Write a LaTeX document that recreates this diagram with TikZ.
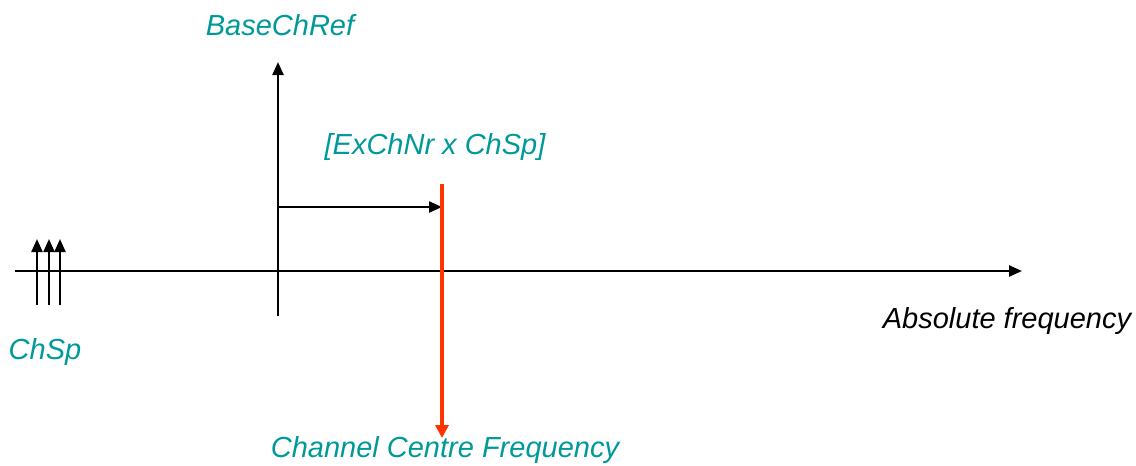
\documentclass[tikz,border=0pt]{standalone}
\usepackage{fontspec}
\setmainfont{Liberation Sans}
\usetikzlibrary{arrows.meta}
\definecolor{teal}{HTML}{009999}
\definecolor{redline}{HTML}{FF3300}
\begin{document}
\begin{tikzpicture}[x=1pt,y=-1pt,
  ln/.style={line width=2.3pt,-{Triangle[length=13pt,width=11pt]}},
  lbl/.style={font=\fontsize{29}{32}\selectfont\itshape,text=teal,inner sep=0pt},
  blk/.style={font=\fontsize{29}{32}\selectfont\itshape,text=black,inner sep=0pt}]
\useasboundingbox (0,0) rectangle (1136,466);
\coordinate (axL) at (15,271);
\coordinate (axR) at (1022,271);
\coordinate (vB) at (278,316);
\coordinate (vT) at (278,62);
\coordinate (hL) at (278,207);
\coordinate (hR) at (442,207);
\coordinate (rT) at (442,184);
\coordinate (rB) at (442,438);
\coordinate (a1B) at (37,305);
\coordinate (a1T) at (37,239);
\coordinate (a2B) at (49,305);
\coordinate (a2T) at (49,239);
\coordinate (a3B) at (60,305);
\coordinate (a3T) at (60,239);
\draw[ln] (axL) -- (axR);
\draw[ln] (vB) -- (vT);
\draw[ln] (hL) -- (hR);
\draw[line width=4pt,redline,-{Triangle[length=13pt,width=13pt]}] (rT) -- (rB);
\draw[ln] (a1B) -- (a1T);
\draw[ln] (a2B) -- (a2T);
\draw[ln] (a3B) -- (a3T);
\node[lbl] (base) at (280,25) {BaseChRef};
\node[lbl] (ex) at (435,147) {[ExChNr x ChSp]};
\node[lbl] (chsp) at (45,352) {ChSp};
\node[blk] (abs) at (1007,321) {Absolute frequency};
\node[lbl] (ccf) at (445,450) {Channel Centre Frequency};
\end{tikzpicture}
\end{document}
